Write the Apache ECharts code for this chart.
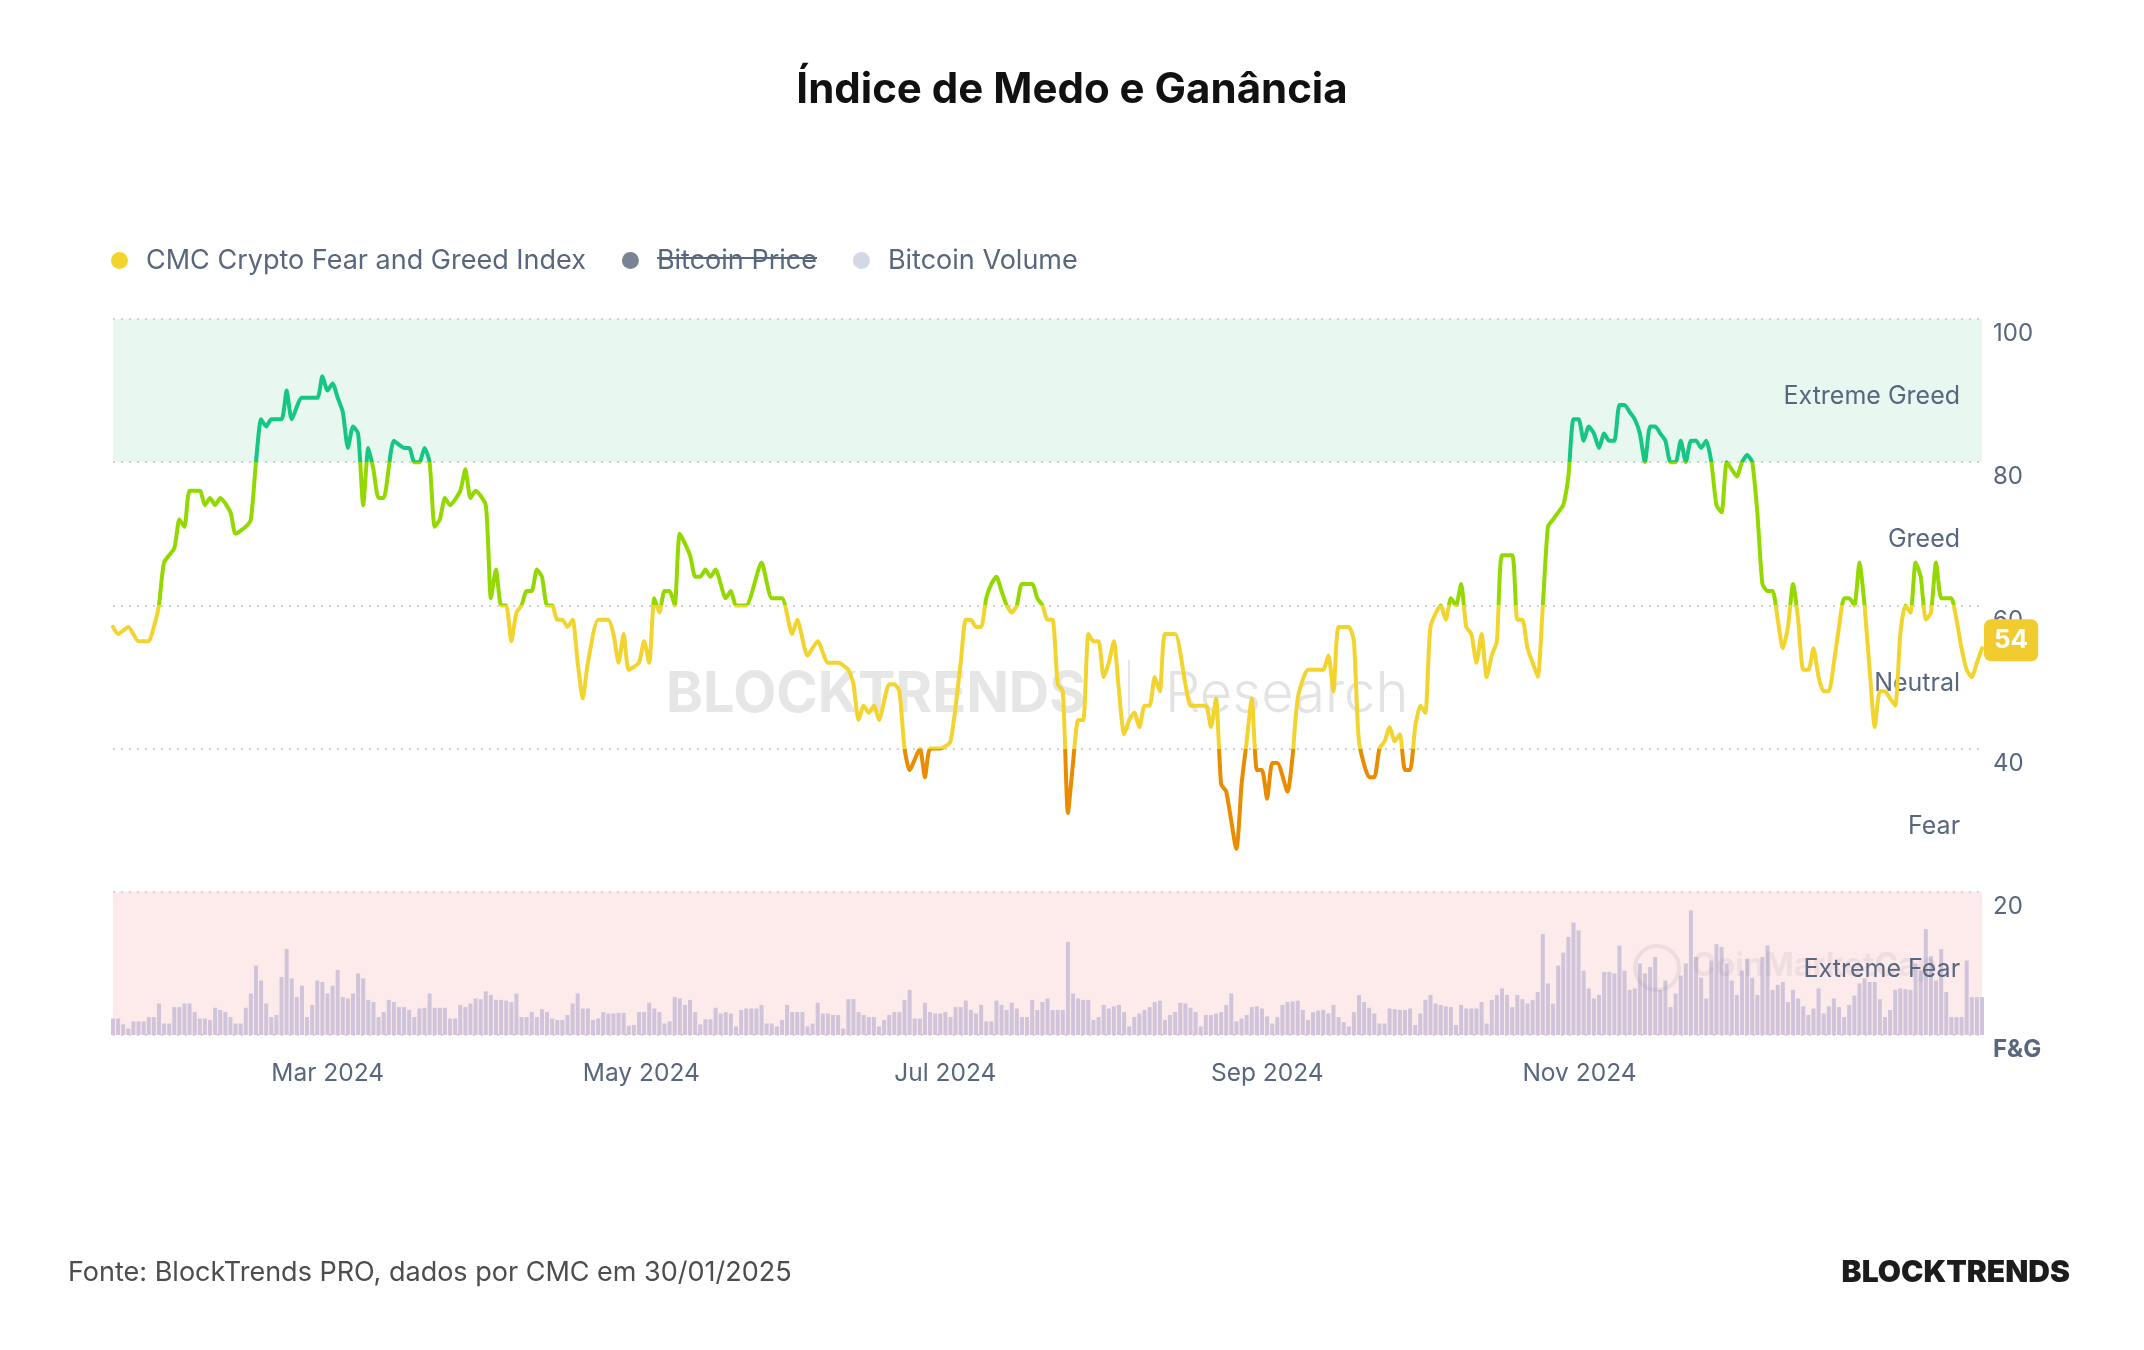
<!DOCTYPE html>
<html>
<head>
<meta charset="utf-8">
<title>Índice de Medo e Ganância</title>
<script src="https://cdn.jsdelivr.net/npm/echarts@6.0.0/dist/echarts.min.js"></script>
<style>
  html, body { margin: 0; padding: 0; background: #fff; }
  #chart { width: 2144px; height: 1350px; }
</style>
</head>
<body>
<div id="chart"></div>
<script>
// dias contados a partir da data inicial
const startDate = '2024-01-30';

// indice de medo e ganancia (leitura do grafico)
const fgDays = [
  0,1,3,5,7,8,9,10,12,13,14,15,17,18,19,20,21,23,24,26,27,28,29,30,31,33,34,35,37,40,
  41,42,43,44,45,46,47,48,49,50,51,52,53,55,57,58,59,60,61,62,63,64,65,66,68,69,70,71,73,74,
  75,76,77,78,79,80,81,82,83,84,85,86,87,88,89,90,91,92,93,95,97,98,99,100,101,103,104,105,106,107,
  108,109,110,111,113,114,115,116,117,118,120,121,122,124,127,129,131,133,134,136,138,140,142,144,145,146,147,148,149,150,
  152,153,154,155,156,158,159,160,162,164,166,167,168,169,170,171,172,173,174,175,176,177,178,180,181,182,183,184,185,186,
  187,188,189,190,191,192,193,194,195,196,197,198,199,200,201,202,203,204,205,206,208,210,211,212,214,215,216,217,218,220,
  221,222,223,224,225,226,227,228,230,231,232,234,236,237,238,239,240,242,243,244,246,247,248,249,250,251,252,253,254,255,
  256,257,258,260,261,262,263,264,265,266,267,268,269,270,271,272,274,275,276,277,278,279,280,281,282,283,284,285,286,287,
  288,289,290,291,292,293,294,295,296,297,298,299,300,301,302,303,304,305,306,307,308,309,310,311,312,313,314,315,316,317,
  318,319,320,321,322,323,324,325,326,327,328,329,330,331,332,333,334,335,336,337,338,339,340,341,342,343,344,345,346,347,
  348,349,350,351,352,353,354,355,356,357,358,359,360,361,362,363,364,365,366
];
const fgValues = [
  57,56,57,55,55,57,60,66,68,72,71,76,76,74,75,74,75,73,70,71,72,80,86,85,86,86,90,86,89,89,
  92,90,91,89,87,82,85,84,74,82,79,75,75,83,82,82,80,80,82,80,71,72,75,74,76,79,75,76,74,61,
  65,60,60,55,59,60,62,62,65,64,60,60,58,58,57,58,52,47,52,58,58,56,52,56,51,52,55,52,61,59,
  62,62,60,70,67,64,64,65,64,65,61,62,60,60,66,61,61,56,58,53,55,52,52,51,49,44,46,45,46,44,
  49,49,48,40,37,40,36,40,40,41,52,58,58,57,57,61,63,64,62,60,59,60,63,63,61,60,58,58,49,48,
  31,38,44,44,56,55,55,50,52,55,48,42,44,45,43,46,46,50,48,56,56,49,46,46,46,43,47,35,34,26,
  35,41,47,37,37,33,38,38,34,39,47,51,51,51,53,48,57,57,55,41,36,36,40,41,43,41,42,37,37,43,
  46,45,57,60,58,61,60,63,57,56,52,56,50,53,55,67,67,58,58,54,52,50,60,71,72,73,74,78,86,86,
  83,85,84,82,84,83,83,88,88,87,86,84,80,85,85,84,83,80,80,83,80,83,83,82,83,80,74,73,80,79,
  78,80,81,80,73,63,62,62,58,54,57,63,58,51,51,54,50,48,48,52,57,61,61,60,66,60,51,43,48,48,
  47,46,56,60,59,66,64,58,59,66,61,61,61,58,54,51,50,52,54
];

// volume diario do bitcoin, em bilhoes de USD (um valor por dia)
const volumeBillions = [
  23,23,15,9,19,19,19,25,25,44, 16,16,39,39,44,44,32,23,23,21,
  38,35,32,25,16,16,38,58,97,76, 44,25,28,81,120,79,53,69,25,42,
  76,74,58,69,91,53,51,58,86,79, 49,46,25,32,49,46,39,39,35,25,
  37,38,58,38,38,38,23,23,42,39, 44,51,50,61,56,49,49,48,46,58,
  25,25,32,25,36,32,23,21,21,28, 44,58,37,37,21,23,32,30,30,31,
  31,13,14,32,32,45,37,32,16,19, 53,51,42,49,32,15,22,22,38,30,
  32,30,12,35,37,37,37,42,16,16, 12,21,42,32,32,32,12,16,45,30,
  30,28,28,9,50,50,32,28,25,25, 12,21,28,32,32,49,63,23,23,45,
  32,30,30,32,25,39,39,48,35,30, 42,19,19,48,42,35,45,37,25,25,
  49,35,46,51,35,35,35,130,58,51, 49,49,21,25,42,37,40,42,32,12,
  25,30,35,39,46,48,21,28,32,45, 44,38,32,12,28,28,30,32,42,58,
  19,23,28,39,40,37,26,16,25,42, 46,47,48,35,21,32,34,35,30,42,
  25,18,12,32,56,46,38,30,16,16, 37,36,35,35,37,14,30,49,56,44,
  42,40,39,14,42,37,37,37,46,16, 49,56,65,56,39,56,50,44,49,60,
  141,72,44,97,115,137,157,146,90,65, 51,56,88,88,86,125,90,63,65,100,
  86,95,109,63,76,39,58,83,100,174, 109,80,51,104,127,123,100,76,56,90,
  106,80,56,109,125,63,70,74,46,63, 51,40,28,37,65,30,40,51,39,25,
  42,55,72,79,74,74,50,25,35,63, 65,64,63,100,90,148,110,76,120,60,
  25,25,25,104,53,53,53
];

const tickDates = ['2024-03-01', '2024-05-01', '2024-07-01', '2024-09-01', '2024-11-01'];
const tickLabels = ['Mar 2024', 'May 2024', 'Jul 2024', 'Sep 2024', 'Nov 2024'];

const zoneNames = ['Extreme Greed', 'Greed', 'Neutral', 'Fear', 'Extreme Fear'];
const zoneMid = [90, 70, 50, 30, 10];
const zoneColors = ['#16c784', '#93d900', '#f3d42f', '#ea8c00', '#ea3943'];

const DAY = 86400000;
function toTime(s) {
  const p = s.split('-').map(Number);
  return Date.UTC(p[0], p[1] - 1, p[2]);
}
const t0 = toTime(startDate);
const totalDays = 366;
// posicao dos rotulos do eixo x, em dias desde a data inicial
const tickDays = tickDates.map(s => Math.round((toTime(s) - t0) / DAY));

const fgData = fgDays.map((d, i) => [d, fgValues[i]]);
const volData = volumeBillions.map((v, i) => [i, v]);

const FONT = 'Inter, "Noto Sans", sans-serif';
const GRAY = '#58667e';

const chart = echarts.init(document.getElementById('chart'));

const option = {
  animation: false,
  backgroundColor: '#fff',
  title: {
    text: 'Índice de Medo e Ganância',
    left: 'center',
    top: 64,
    textStyle: { fontFamily: FONT, fontSize: 42, fontWeight: 'bold', color: '#111' }
  },
  legend: {
    left: 106,
    top: 242,
    icon: 'circle',
    itemWidth: 17,
    itemHeight: 17,
    itemGap: 36,
    textStyle: { fontFamily: FONT, fontSize: 27, color: GRAY, padding: [0, 0, 0, 13] },
    data: [
      { name: 'CMC Crypto Fear and Greed Index', itemStyle: { color: '#f3d42f' } },
      { name: 'Bitcoin Price', itemStyle: { color: '#7a8396' } },
      { name: 'Bitcoin Volume', itemStyle: { color: '#d3d7e6' } }
    ]
  },
  grid: { left: 113, right: 162, top: 319, bottom: 315 },
  xAxis: {
    type: 'value',
    min: 0,
    max: totalDays,
    axisLine: { show: false },
    axisTick: { show: false },
    splitLine: { show: false },
    axisLabel: {
      customValues: tickDays,
      align: 'left',
      margin: 26,
      fontFamily: FONT,
      fontSize: 24.5,
      color: GRAY,
      formatter: function (v) {
        const i = tickDays.indexOf(Math.round(v));
        return i >= 0 ? tickLabels[i] : '';
      }
    }
  },
  yAxis: [
    {
      type: 'value',
      position: 'right',
      min: 0,
      max: 100,
      interval: 20,
      z: 1,
      axisLine: { show: false },
      axisTick: { show: false },
      splitLine: { lineStyle: { type: [2, 6], color: '#cdd3dc', width: 2 } },
      axisLabel: {
        margin: 11,
        verticalAlign: 'top',
        padding: [3, 0, 0, 0],
        fontFamily: FONT,
        fontSize: 24,
        color: GRAY,
        formatter: v => (v === 0 ? '{b|F&G}' : String(v)),
        rich: { b: { fontFamily: FONT, fontSize: 24, fontWeight: 'bold', color: GRAY } }
      }
    },
    { type: 'value', min: 0, max: 1000, show: false, splitLine: { show: false } }
  ],
  visualMap: {
    type: 'piecewise',
    show: false,
    seriesIndex: 0,
    dimension: 1,
    pieces: [
      { gte: 80, color: zoneColors[0] },
      { gte: 60, lt: 80, color: zoneColors[1] },
      { gte: 40, lt: 60, color: zoneColors[2] },
      { gte: 20, lt: 40, color: zoneColors[3] },
      { lt: 20, color: zoneColors[4] }
    ]
  },
  graphic: [
    { type: 'text', z: 0, left: 666, top: 667,
      style: { text: 'BLOCKTRENDS', fontFamily: FONT, fontSize: 56, fontWeight: 'bold', fill: '#e6e6e6' } },
    { type: 'rect', z: 0, shape: { x: 1128, y: 660, width: 2, height: 70 }, style: { fill: '#e6e6e6' } },
    { type: 'text', z: 0, left: 1165, top: 667,
      style: { text: 'Research', fontFamily: FONT, fontSize: 56, fontWeight: 300, fill: '#e3e3e3' } },
    { type: 'circle', z: 10, shape: { cx: 1657, cy: 968, r: 22 },
      style: { fill: 'none', stroke: 'rgba(120,120,150,0.12)', lineWidth: 4 } },
    { type: 'text', z: 10, left: 1692, top: 950,
      style: { text: 'CoinMarketCap', fontFamily: FONT, fontSize: 32, fontWeight: 'bold', fill: 'rgba(120,120,150,0.10)' } },
    { type: 'line', z: 10, shape: { x1: 657, y1: 258, x2: 817, y2: 258 }, style: { stroke: GRAY, lineWidth: 2 } },
    { type: 'text', left: 68, top: 1259,
      style: { text: 'Fonte: BlockTrends PRO, dados por CMC em 30/01/2025', fontFamily: FONT, fontSize: 27, fill: '#4d4d4d' } },
    { type: 'text', right: 74, top: 1258,
      style: { text: 'BLOCKTRENDS', fontFamily: FONT, fontSize: 30, fontWeight: 900, fill: '#1c1c1c' } }
  ],
  series: [
    {
      name: 'CMC Crypto Fear and Greed Index',
      type: 'line',
      data: fgData,
      showSymbol: false,
      smooth: 0.2,
      z: 5,
      lineStyle: { width: 4, join: 'round', cap: 'round' },
      endLabel: {
        show: true,
        formatter: p => String(p.value[1]),
        distance: 2,
        offset: [0, -8],
        backgroundColor: '#f2cc2e',
        color: '#fff',
        fontFamily: FONT,
        fontSize: 26,
        fontWeight: 'bold',
        padding: [8, 10, 8, 10],
        borderRadius: 7
      },
      markArea: {
        silent: true,
        z: 0,
        data: [
          [{ yAxis: 80, itemStyle: { color: '#e8f8f1' } }, { yAxis: 100 }],
          [{ yAxis: 0, itemStyle: { color: '#fdeaea' } }, { yAxis: 20 }]
        ]
      },
      markPoint: {
        silent: true,
        symbol: 'circle',
        symbolSize: 0,
        label: {
          show: true,
          position: 'left',
          distance: 0,
          offset: [0, 6],
          formatter: '{b}',
          fontFamily: FONT,
          fontSize: 25,
          color: GRAY
        },
        data: zoneNames.map((n, i) => ({ name: n, coord: [361.7, zoneMid[i]] }))
      }
    },
    {
      name: 'Bitcoin Price',
      type: 'line',
      data: []
    },
    {
      name: 'Bitcoin Volume',
      type: 'bar',
      yAxisIndex: 1,
      data: volData,
      barWidth: 4,
      z: 2,
      itemStyle: { color: '#d0c4da' }
    }
  ]
};

chart.setOption(option);
</script>
</body>
</html>
